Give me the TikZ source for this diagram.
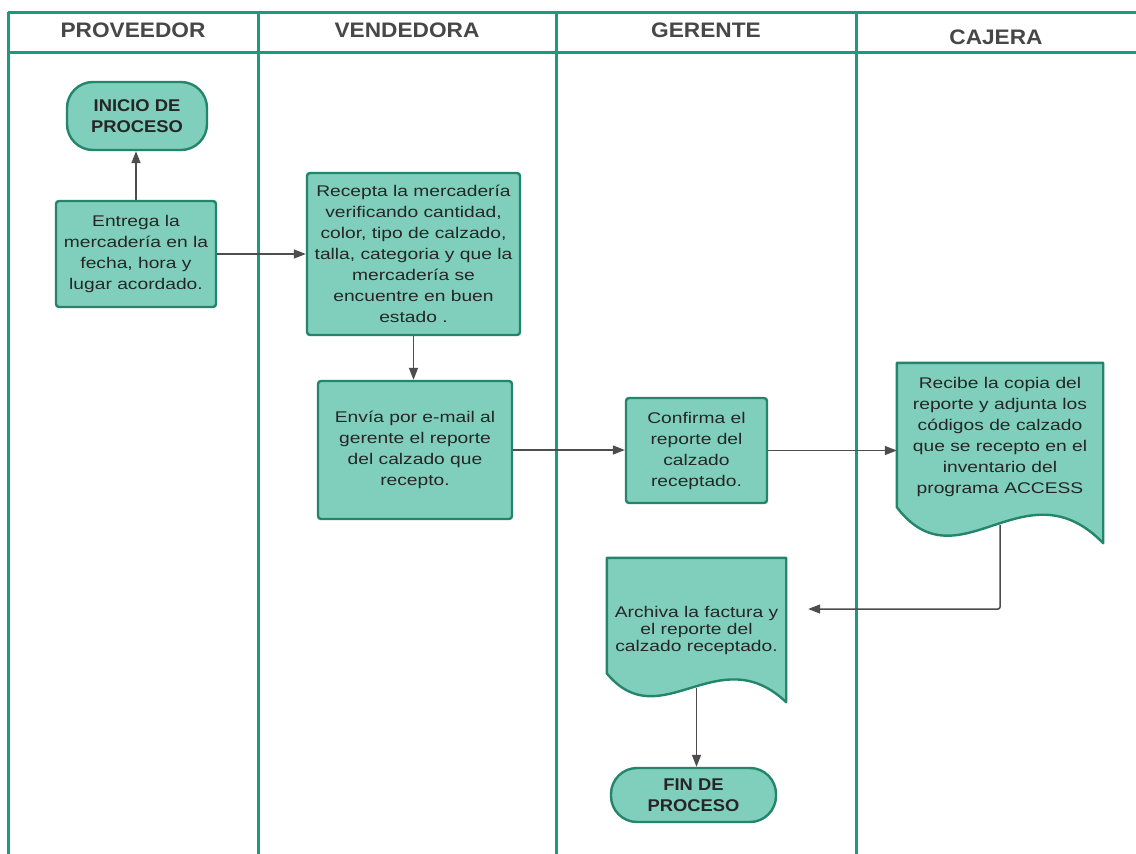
\documentclass[tikz,border=0pt]{standalone}
\usepackage{fontspec}
\usepackage{tikz}
\usetikzlibrary{arrows.meta,calc,backgrounds}
\newfontfamily\bodyfont{Liberation Sans}[FakeStretch=1.24]
\newfontfamily\headfont{Liberation Sans}[FakeStretch=1.08]
\definecolor{laneteal}{HTML}{1A9B7B}
\definecolor{boxfill}{HTML}{80CFBD}
\definecolor{boxline}{HTML}{23866A}
\definecolor{flowgray}{HTML}{4D4D4D}
\definecolor{txtdark}{HTML}{262626}
% outline of a document box: flat top, wavy bottom
\newcommand{\docoutline}[2]{%
  \filldraw[fill=boxfill,draw=boxline,line width=2.4pt,line join=round]
    (#1.north west) -- (#1.north east) -- (#1.south east)
    .. controls ($(#1.south west)!0.62!(#1.south east)+(0,{-0.45*#2})$)
    and ($(#1.south west)!0.3!(#1.south east)+(0,{0.25*#2})$)
    .. ($(#1.south west)+(0,{-0.2*#2})$) -- cycle;}

\begin{document}
\begin{tikzpicture}[x=1pt,y=-1pt,
  lane/.style={draw=laneteal,line width=3pt},
  lanehead/.style={font=\headfont\bfseries\fontsize{21}{24}\selectfont,text=txtdark!85},
  taskbox/.style={draw=boxline,fill=boxfill,line width=2.4pt,rounded corners=3pt,
    align=center,inner sep=3pt,text=txtdark,font=\bodyfont\fontsize{15.5}{21}\selectfont},
  docbox/.style={align=center,inner sep=3pt,text=txtdark,font=\bodyfont\fontsize{15.5}{21}\selectfont},
  endbox/.style={draw=boxline,fill=boxfill,line width=2.4pt,rounded corners=26pt,
    align=center,inner sep=3pt,text=txtdark,font=\headfont\bfseries\fontsize{17}{21.5}\selectfont},
  flow/.style={draw=flowgray,line width=1.5pt,-{Triangle[length=12pt,width=9pt]}}]
  \useasboundingbox (0,0) rectangle (1136,854);

  % swimlanes
  \draw[lane] (8,12) -- (1136,12);
  \draw[lane] (8,52) -- (1136,52);
  \foreach \lx in {8,258,556,856}
    \draw[lane] (\lx,12) -- (\lx,854);
  \node[lanehead] (hprov) at (133,30) {PROVEEDOR};
  \node[lanehead] (hvend) at (407,30) {VENDEDORA};
  \node[lanehead] (hger) at (706,30) {GERENTE};
  \node[lanehead] (hcaj) at (996,37) {CAJERA};

  % steps
  \node[endbox,minimum width=140pt,minimum height=68pt] (inicio) at (137,116)
    {INICIO DE\\PROCESO};
  \node[taskbox,minimum width=160pt,minimum height=106pt] (entrega) at (136,254)
    {Entrega la\\mercadería en la\\fecha, hora y\\lugar acordado.};
  \node[taskbox,minimum width=213pt,minimum height=162pt] (recepta) at (413.5,254)
    {Recepta la mercadería\\verificando cantidad,\\color, tipo de calzado,\\talla, categoria y que la\\mercadería se\\encuentre en buen\\estado .};
  \node[taskbox,minimum width=194pt,minimum height=138pt] (envia) at (415,450)
    {Envía por e-mail al\\gerente el reporte\\del calzado que\\recepto.};
  \node[taskbox,minimum width=141pt,minimum height=105pt] (confirma) at (696.5,450.5)
    {Confirma el\\reporte del\\calzado\\receptado.};
  \node[docbox,minimum width=206pt,minimum height=180pt,text depth=36pt] (recibe) at (1000,453)
    {Recibe la copia del\\reporte y adjunta los\\códigos de calzado\\que se recepto en el\\inventario del\\programa ACCESS};
  \node[docbox,minimum width=179pt,minimum height=144pt,
    font=\bodyfont\fontsize{15.5}{17}\selectfont] (archiva) at (696.5,630)
    {Archiva la factura y\\el reporte del\\calzado receptado.};
  \node[endbox,minimum width=165pt,minimum height=54pt] (fin) at (693.5,795)
    {FIN DE\\PROCESO};

  \begin{scope}[on background layer]
    \fill[white] (0,0) rectangle (1136,854);
    \docoutline{recibe}{180}
    \docoutline{archiva}{144}
  \end{scope}

  % connectors
  \draw[flow] (entrega.north) -- (entrega.north |- inicio.south);
  \draw[flow] (entrega.east) -- (recepta.west);
  \draw[flow] (recepta.south) -- (recepta.south |- envia.north);
  \draw[flow] (envia.east) -- (envia.east -| confirma.west);
  \draw[flow] (confirma.east) -- (confirma.east -| recibe.west);
  \draw[flow,rounded corners=2pt] ([yshift=18pt]recibe.south) |- ([xshift=22pt,yshift=21pt]archiva.east);
  \draw[flow] ([yshift=14pt]archiva.south) -- (archiva.south |- fin.north);
\end{tikzpicture}
\end{document}
